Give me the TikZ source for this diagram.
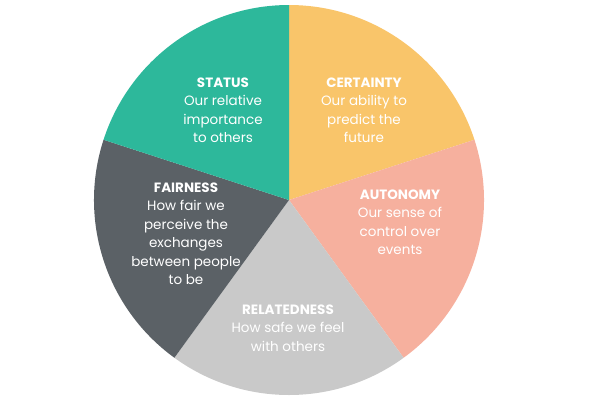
\documentclass[tikz,border=0pt]{standalone}
\usepackage{fontspec}
\setmainfont{Poppins}
\definecolor{cteal}{HTML}{2DB89B}
\definecolor{cyel}{HTML}{F9C56A}
\definecolor{cpink}{HTML}{F6B09E}
\definecolor{cgray}{HTML}{C9C9C9}
\definecolor{cdark}{HTML}{5B6166}
\begin{document}
\begin{tikzpicture}[x=1pt,y=-1pt,
  lbl/.style={text=white,align=center,font=\fontsize{13.5}{18.5}\selectfont,anchor=north}]
\useasboundingbox (0,0) rectangle (600,400);
\coordinate (c) at (289,200);
\def\R{195}
\fill[cyel] (c) -- ++(90:-\R) arc[start angle=-90,end angle=-18,radius=\R] -- cycle;
\fill[cpink] (c) -- ++(-18:\R) arc[start angle=-18,end angle=54,radius=\R] -- cycle;
\fill[cgray] (c) -- ++(54:\R) arc[start angle=54,end angle=126,radius=\R] -- cycle;
\fill[cdark] (c) -- ++(126:\R) arc[start angle=126,end angle=198,radius=\R] -- cycle;
\fill[cteal] (c) -- ++(198:\R) arc[start angle=198,end angle=270,radius=\R] -- cycle;
\node[lbl] (st) at (223,74) {\textbf{STATUS}\\Our relative\\importance\\to others};
\node[lbl] (ce) at (364,74) {\textbf{CERTAINTY}\\Our ability to\\predict the\\future};
\node[lbl] (au) at (400,186) {\textbf{AUTONOMY}\\Our sense of\\control over\\events};
\node[lbl] (fa) at (186,179) {\textbf{FAIRNESS}\\How fair we\\perceive the\\exchanges\\between people\\to be};
\node[lbl] (re) at (288,301) {\textbf{RELATEDNESS}\\How safe we feel\\with others};
\end{tikzpicture}
\end{document}
